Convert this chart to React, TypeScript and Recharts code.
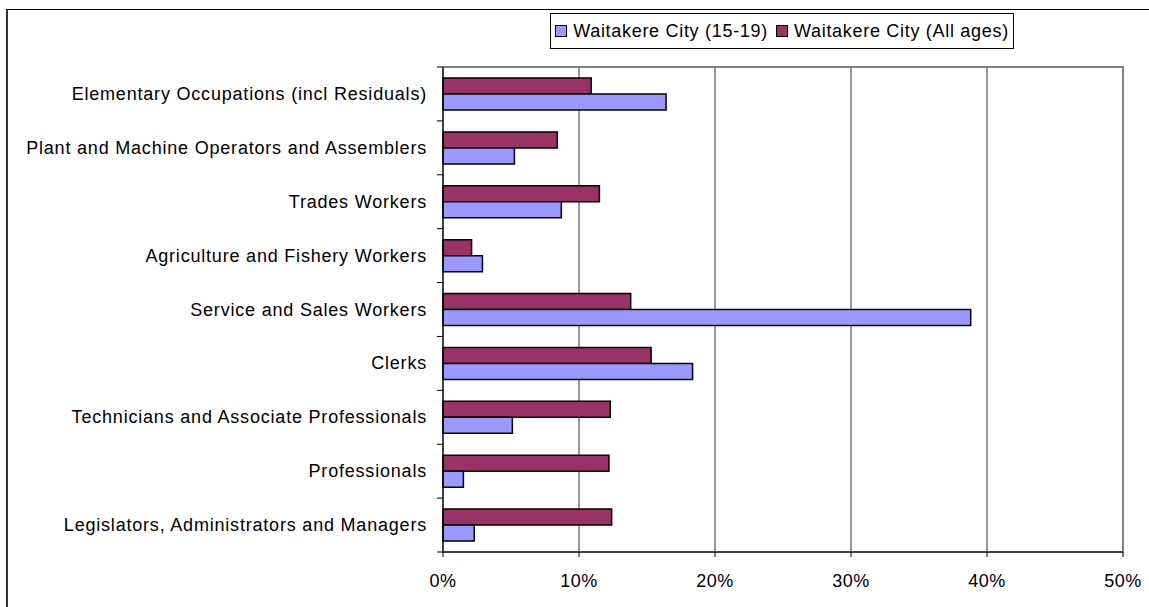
import React from "react";
import {
  BarChart,
  Bar,
  XAxis,
  YAxis,
  CartesianGrid,
  ReferenceArea,
} from "recharts";

const categories = [
  "Elementary Occupations (incl Residuals)",
  "Plant and Machine Operators and Assemblers",
  "Trades Workers",
  "Agriculture and Fishery Workers",
  "Service and Sales Workers",
  "Clerks",
  "Technicians and Associate Professionals",
  "Professionals",
  "Legislators, Administrators and Managers",
];

const youth = [16.4, 5.25, 8.7, 2.9, 38.8, 18.35, 5.1, 1.5, 2.3];
const allAges = [10.9, 8.4, 11.5, 2.1, 13.8, 15.3, 12.3, 12.2, 12.4];

const xTicks = [0, 10, 20, 30, 40, 50];

const seriesNames = ["Waitakere City (15-19)", "Waitakere City (All ages)"];
const seriesColors = ["#9999FF", "#993366"];

const data = categories.map((c, i) => ({
  name: c,
  youth: youth[i],
  all: allAges[i],
}));

const W = 1149;
const H = 607;
const MARGIN = { top: 67, right: 26, bottom: 25, left: 0 };
const X_AXIS_H = 30;
const Y_AXIS_W = 443;
const plotH = H - MARGIN.top - MARGIN.bottom - X_AXIS_H;
const band = plotH / categories.length;

const FONT = "'Liberation Sans', Arial, sans-serif";
const FS = 18;
const LS = 0.8;

const YTick = (props: any) => {
  const { x, y, payload, index } = props;
  return (
    <g>
      <line x1={x + 10} x2={x + 16} y1={y - band / 2} y2={y - band / 2} stroke="#000" strokeWidth={1} />
      {index === categories.length - 1 && (
        <line x1={x + 10} x2={x + 16} y1={y + band / 2} y2={y + band / 2} stroke="#000" strokeWidth={1} />
      )}
      <text
        x={x}
        y={y}
        textAnchor="end"
        dominantBaseline="central"
        fontSize={FS}
        fontFamily={FONT}
        letterSpacing={LS}
        fill="#000"
      >
        {payload.value}
      </text>
    </g>
  );
};

const XTick = (props: any) => {
  const { x, y, payload } = props;
  return (
    <text
      x={x}
      y={y}
      dy="0.71em"
      textAnchor="middle"
      fontSize={FS}
      fontFamily={FONT}
      letterSpacing={0.5}
      fill="#000"
    >
      {`${payload.value}%`}
    </text>
  );
};

const LegendBox = () => (
  <div
    style={{
      position: "absolute",
      left: 550,
      top: 13,
      width: 464,
      height: 36,
      border: "1px solid #000",
      display: "flex",
      alignItems: "center",
      justifyContent: "center",
      fontFamily: FONT,
      fontSize: FS,
      letterSpacing: 0.7,
      background: "#fff",
      boxSizing: "border-box",
      gap: 8,
      whiteSpace: "nowrap",
    }}
  >
    {seriesNames.map((n, i) => (
      <div key={n} style={{ display: "flex", alignItems: "center" }}>
        <span
          style={{
            display: "inline-block",
            width: 10,
            height: 10,
            background: seriesColors[i],
            border: "1px solid #000",
            marginRight: 6,
          }}
        />
        <span>{n}</span>
      </div>
    ))}
  </div>
);

export default function App() {
  return (
    <div
      style={{
        position: "absolute",
        left: 0,
        top: 0,
        width: W,
        height: H,
        background: "#fff",
        overflow: "hidden",
      }}
    >
      <div
        style={{
          position: "absolute",
          left: 6,
          top: 9,
          width: 1300,
          height: 800,
          borderLeft: "2px solid #333",
          borderTop: "1px solid #000",
        }}
      />
      <div style={{ position: "absolute", left: 0, top: 0 }}>
        <BarChart
          width={W}
          height={H}
          data={data}
          layout="vertical"
          margin={MARGIN}
          barSize={16}
          barGap={0}
          style={{ fontFamily: FONT }}
        >
          <ReferenceArea x1={0} x2={50} fill="none" stroke="#808080" strokeWidth={2} ifOverflow="visible" />
          <CartesianGrid horizontal={false} vertical={true} stroke="#333" />
          <XAxis
            type="number"
            domain={[0, 50]}
            ticks={xTicks}
            axisLine={{ stroke: "#000", strokeWidth: 1 }}
            tickLine={{ stroke: "#000" }}
            tickSize={5}
            tickMargin={17}
            height={X_AXIS_H}
            tick={<XTick />}
            interval={0}
          />
          <YAxis
            type="category"
            dataKey="name"
            width={Y_AXIS_W}
            axisLine={{ stroke: "#000", strokeWidth: 1 }}
            tickLine={false}
            tickSize={6}
            tickMargin={10}
            tick={<YTick />}
            interval={0}
          />
          <Bar dataKey="all" name={seriesNames[1]} fill={seriesColors[1]} stroke="#000" strokeWidth={1.5} isAnimationActive={false} />
          <Bar dataKey="youth" name={seriesNames[0]} fill={seriesColors[0]} stroke="#000" strokeWidth={1.5} isAnimationActive={false} />
        </BarChart>
      </div>
      <LegendBox />
    </div>
  );
}
